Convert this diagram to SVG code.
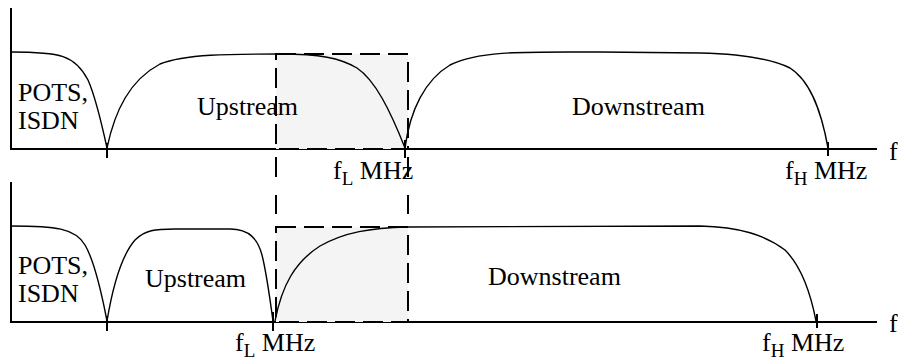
<svg xmlns="http://www.w3.org/2000/svg" width="898" height="362" viewBox="0 0 898 362">
<style>
.ax{stroke:#000;stroke-width:2;fill:none}
.cv{stroke:#000;stroke-width:1.4;fill:none}
.band{fill:#f4f4f4;stroke:none}
.dash{stroke:#000;stroke-width:2;fill:none;stroke-dasharray:20 8}
.dl{stroke:#000;stroke-width:2}
text{font-family:"Liberation Serif","Times New Roman",serif;font-size:26px;fill:#000}
.sub{font-size:19px}
</style>
<rect width="898" height="362" fill="#fff"/>
<g id="axes">
<path class="ax" d="M11,8 V149 H877"/>
<path class="ax" d="M11,182 V322 H877"/>
</g>
<g id="bands">
<rect class="band" x="276" y="54" width="132" height="95"/>
<rect class="band" x="276" y="227" width="132" height="95"/>
</g>
<g id="ticks">
<path class="ax" d="M107,143 V158 M405,140 V158 M828,142 V156"/>
<path class="ax" d="M107,316 V331 M273,312 V331 M817,314 V328"/>
</g>
<g id="curves">
<path class="cv" d="M11,52 C60,52 75,55 88,80 C96,98 102,125 107,148"/>
<path class="cv" d="M107,148 C115,110 130,80 160,64 C185,54 230,54 280,54 C320,54 340,58 357,68 C375,80 390,110 405,148"/>
<path class="cv" d="M405,148 C410,110 425,80 450,65 C480,50 530,52 600,52 L700,53 C740,54 770,58 790,68 C812,82 822,115 828,148"/>
<path class="cv" d="M11,226 C55,226 75,228 85,245 C95,262 102,295 107,321"/>
<path class="cv" d="M107,321 C113,285 122,255 135,240 C145,230 155,229 175,229 L230,229 C250,229 258,240 262,255 C267,275 270,300 273,321"/>
<path class="cv" d="M275,321 C282,285 295,262 320,246 C345,232 370,228 408,227 L700,226 C740,227 765,235 785,250 C800,265 810,290 816,321"/>
</g>
<g id="window">
<rect class="dash" x="276" y="54" width="132" height="95"/>
<rect class="dash" x="276" y="227" width="132" height="95"/>
<path class="dl" d="M276,157 V177 M276,195 V214 M408,157 V177 M408,195 V214"/>
</g>
<g id="labels-top">
<text x="18" y="101">POTS,</text>
<text x="18" y="129">ISDN</text>
<text x="197" y="115">Upstream</text>
<text x="572" y="115">Downstream</text>
<text x="333" y="179">f<tspan class="sub" dy="6">L</tspan><tspan dy="-6"> MHz</tspan></text>
<text x="785" y="179">f<tspan class="sub" dy="6">H</tspan><tspan dy="-6"> MHz</tspan></text>
<text x="889" y="160">f</text>
</g>
<g id="labels-bottom">
<text x="18" y="274">POTS,</text>
<text x="18" y="302">ISDN</text>
<text x="145" y="287">Upstream</text>
<text x="488" y="285">Downstream</text>
<text x="235" y="351">f<tspan class="sub" dy="6">L</tspan><tspan dy="-6"> MHz</tspan></text>
<text x="762" y="351">f<tspan class="sub" dy="6">H</tspan><tspan dy="-6"> MHz</tspan></text>
<text x="889" y="332">f</text>
</g>
</svg>
